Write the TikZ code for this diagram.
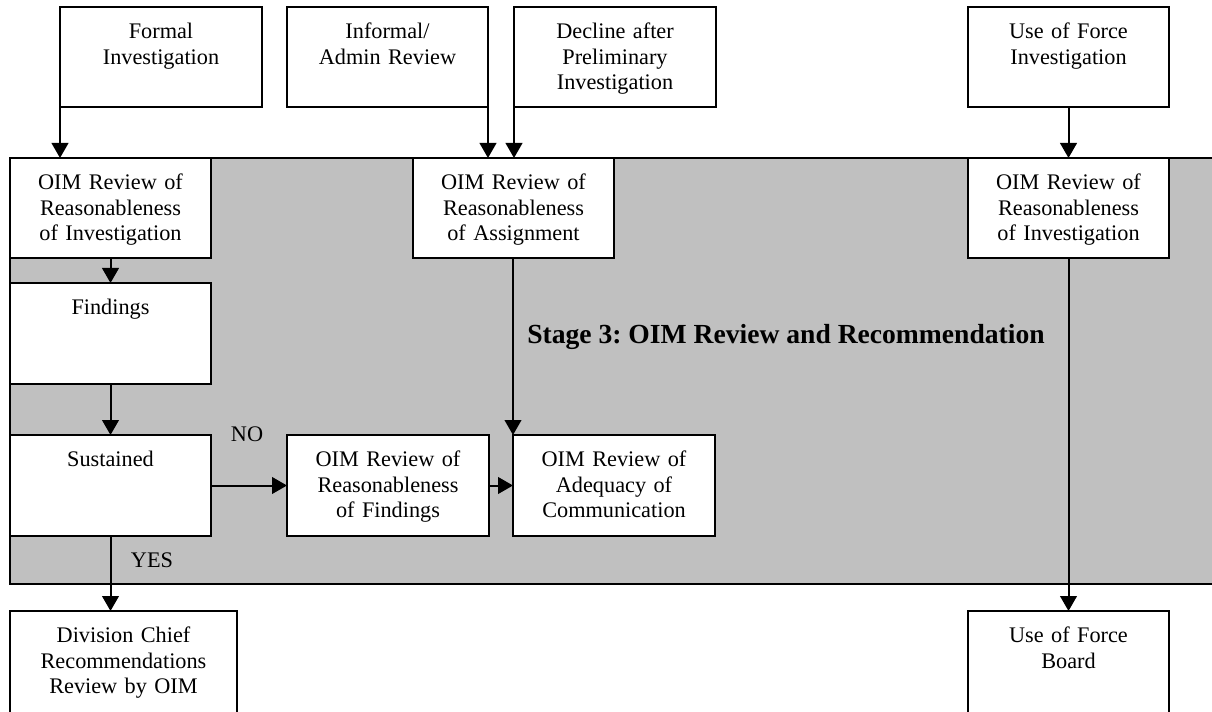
\documentclass[tikz,border=0pt]{standalone}
\usepackage{fontspec}
\setmainfont{Liberation Serif}
\usetikzlibrary{arrows.meta,calc}
\definecolor{stagegray}{RGB}{192,192,192}
\tikzset{
 bx/.style={draw, fill=white, line width=1.4pt, inner sep=0pt, outer sep=0pt},
 txt/.style={font=\fontsize{16.7}{19.3}\selectfont, align=center, text width=150pt, inner sep=0pt, anchor=north},
 lbl/.style={font=\fontsize{16.7}{19.3}\selectfont, inner sep=0pt, anchor=base},
 arr/.style={line width=1.5pt, -{Triangle[length=11.25pt,width=12.5pt]}},
}
\newcommand\mkbox[6]{%
 \node[bx, minimum width={(#4-#2)*0.75pt}, minimum height={(#5-#3)*0.75pt}] (#1) at ({(#2+#4)/2},{(#3+#5)/2}) {};
 \node[txt] (#1-t) at ({(#2+#4)/2},{#3+13}) {\strut #6};
}
\begin{document}
\frenchspacing
\begin{tikzpicture}[x=0.75pt,y=-0.75pt]
\useasboundingbox (0,0) rectangle (1212,712);
% stage region
\fill[stagegray] (10,158) rectangle (1216,584);
\draw[line width=1.4pt] (1216,158) -- (10,158) -- (10,584) -- (1216,584);
\node[font=\fontsize{20.7}{24}\selectfont\bfseries, anchor=base west, inner sep=0pt] (title) at (527,344) {Stage 3: OIM Review and Recommendation};
% boxes
\mkbox{formal}{60}{7}{262}{107}{Formal\\Investigation}
\mkbox{informal}{287}{7}{488}{107}{Informal/\\Admin Review}
\mkbox{decline}{514}{7}{716}{107}{Decline after\\Preliminary\\Investigation}
\mkbox{uof}{968}{7}{1169}{107}{Use of Force\\Investigation}
\mkbox{oimL}{10}{158}{211}{258}{OIM Review of\\Reasonableness\\of Investigation}
\mkbox{oimA}{413}{158}{614}{258}{OIM Review of\\Reasonableness\\of Assignment}
\mkbox{oimR}{968}{158}{1169}{258}{OIM Review of\\Reasonableness\\of Investigation}
\mkbox{findings}{10}{283}{211}{384}{Findings}
\mkbox{sustained}{10}{435}{211}{536}{Sustained}
\mkbox{revF}{287}{435}{489}{536}{OIM Review of\\Reasonableness\\of Findings}
\mkbox{adeq}{513}{435}{715}{536}{OIM Review of\\Adequacy of\\Communication}
\mkbox{divchief}{10}{611}{237}{716}{Division Chief\\Recommendations\\Review by OIM}
\mkbox{ufboard}{968}{611}{1169}{716}{Use of Force\\Board}
% connectors
\draw[arr] (formal.south west) -- (formal.south west |- oimL.north);
\draw[arr] (informal.south east) -- (informal.south east |- oimA.north);
\draw[arr] (decline.south west) -- (decline.south west |- oimA.north);
\draw[arr] (uof.south) -- (oimR.north);
\draw[arr] (oimL.south) -- (findings.north);
\draw[arr] (findings.south) -- (sustained.north);
\draw[arr] (sustained.east) -- (revF.west);
\draw[arr] (revF.east) -- (adeq.west);
\draw[arr] (adeq.north west |- oimA.south) -- (adeq.north west);
\draw[arr] (sustained.south) -- (sustained.south |- divchief.north);
\draw[arr] (oimR.south) -- (ufboard.north);
% labels
\node[lbl] (no) at (247,441) {NO};
\node[lbl] (yes) at (152,567) {YES};
\end{tikzpicture}
\end{document}
